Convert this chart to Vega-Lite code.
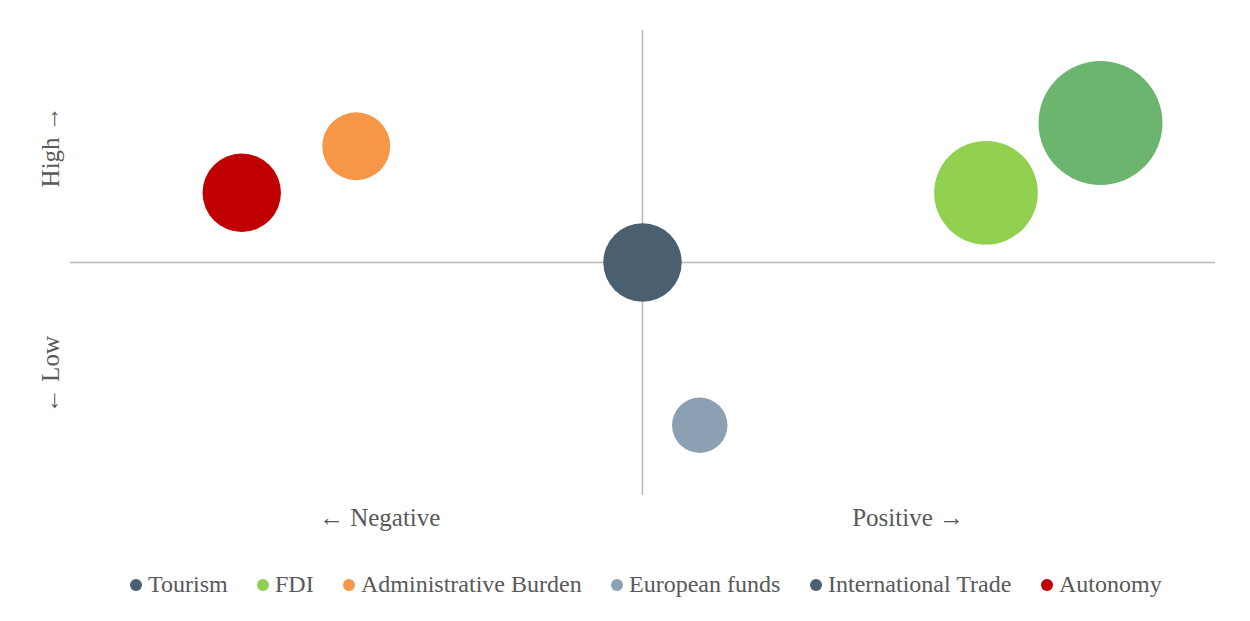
{
  "$schema": "https://vega.github.io/schema/vega-lite/v6.json",
  "autosize": {"type": "none"},
  "width": 1145,
  "height": 465,
  "padding": {"left": 70, "top": 30, "right": 35, "bottom": 126},
  "background": "white",
  "config": {
    "view": {"stroke": null},
    "font": "'Liberation Serif', 'DejaVu Sans'",
    "legend": {"layout": {"bottom": {"anchor": "middle"}}}
  },
  "datasets": {
    "bubbles": [
      {"series": "Tourism", "impact": 8, "level": 6, "weight": 100},
      {"series": "FDI", "impact": 6, "level": 3, "weight": 70},
      {"series": "Administrative Burden", "impact": -5, "level": 5, "weight": 30},
      {"series": "European funds", "impact": 1, "level": -7, "weight": 20},
      {"series": "International Trade", "impact": 0, "level": 0, "weight": 40},
      {"series": "Autonomy", "impact": -7, "level": 3, "weight": 40}
    ],
    "axes": [{"impact": 0, "level": 0}]
  },
  "layer": [
    {
      "data": {"name": "axes"},
      "mark": {"type": "rule", "color": "#B8B8B8", "strokeWidth": 1.5},
      "encoding": {
        "x": {"field": "impact", "type": "quantitative", "scale": {"domain": [-10, 10], "nice": false, "zero": false},
          "axis": {"values": [-4.6, 4.63], "labelExpr": "datum.value < 0 ? '← Negative' : 'Positive →'", "domain": false, "ticks": false, "grid": false, "title": null, "labelFont": "'Liberation Serif', 'DejaVu Sans'", "labelFontSize": 25, "labelColor": "#595959", "labelBaseline": "middle", "labelPadding": 22, "labelFlush": false, "labelOverlap": false}}
      }
    },
    {
      "data": {"name": "axes"},
      "mark": {"type": "rule", "color": "#B8B8B8", "strokeWidth": 1.5},
      "encoding": {
        "y": {"field": "level", "type": "quantitative", "scale": {"domain": [-10, 10], "nice": false, "zero": false},
          "axis": {"values": [5, -4.8], "labelExpr": "datum.value > 0 ? 'High →' : '← Low'", "domain": false, "ticks": false, "grid": false, "title": null, "labelFont": "'Liberation Serif', 'DejaVu Sans'", "labelFontSize": 25, "labelColor": "#595959", "labelAngle": 270, "labelAlign": "center", "labelBaseline": "middle", "labelPadding": 20, "labelFlush": false, "labelOverlap": false}}
      }
    },
    {
      "data": {"name": "bubbles"},
      "transform": [{"filter": "datum.series !== 'Tourism'"}],
      "mark": {"type": "point", "shape": "circle", "filled": true, "opacity": 1, "strokeWidth": 0},
      "encoding": {
        "x": {"field": "impact", "type": "quantitative"},
        "y": {"field": "level", "type": "quantitative"},
        "size": {"field": "weight", "type": "quantitative", "scale": {"type": "linear", "domain": [0, 100], "range": [0, 15376], "zero": true}, "legend": null},
        "color": {"field": "series", "type": "nominal",
          "scale": {"domain": ["Tourism", "FDI", "Administrative Burden", "European funds", "International Trade", "Autonomy"],
                    "range": ["#4A5F70", "#92D050", "#F79646", "#8BA0B2", "#4A5F70", "#C00000"]},
          "legend": {"title": null, "orient": "bottom", "direction": "horizontal", "symbolType": "circle", "symbolSize": 144, "symbolStrokeWidth": 0, "symbolOpacity": 1, "labelFont": "'Liberation Serif', 'DejaVu Sans'", "labelFontSize": 24, "labelColor": "#595959", "labelOffset": 0, "columnPadding": 23, "offset": 43, "labelLimit": 400}}
      }
    },
    {
      "data": {"name": "bubbles"},
      "transform": [{"filter": "datum.series === 'Tourism'"}],
      "mark": {"type": "point", "shape": "circle", "filled": true, "opacity": 1, "strokeWidth": 0, "color": "#6BB56E"},
      "encoding": {
        "x": {"field": "impact", "type": "quantitative"},
        "y": {"field": "level", "type": "quantitative"},
        "size": {"field": "weight", "type": "quantitative"}
      }
    }
  ]
}
